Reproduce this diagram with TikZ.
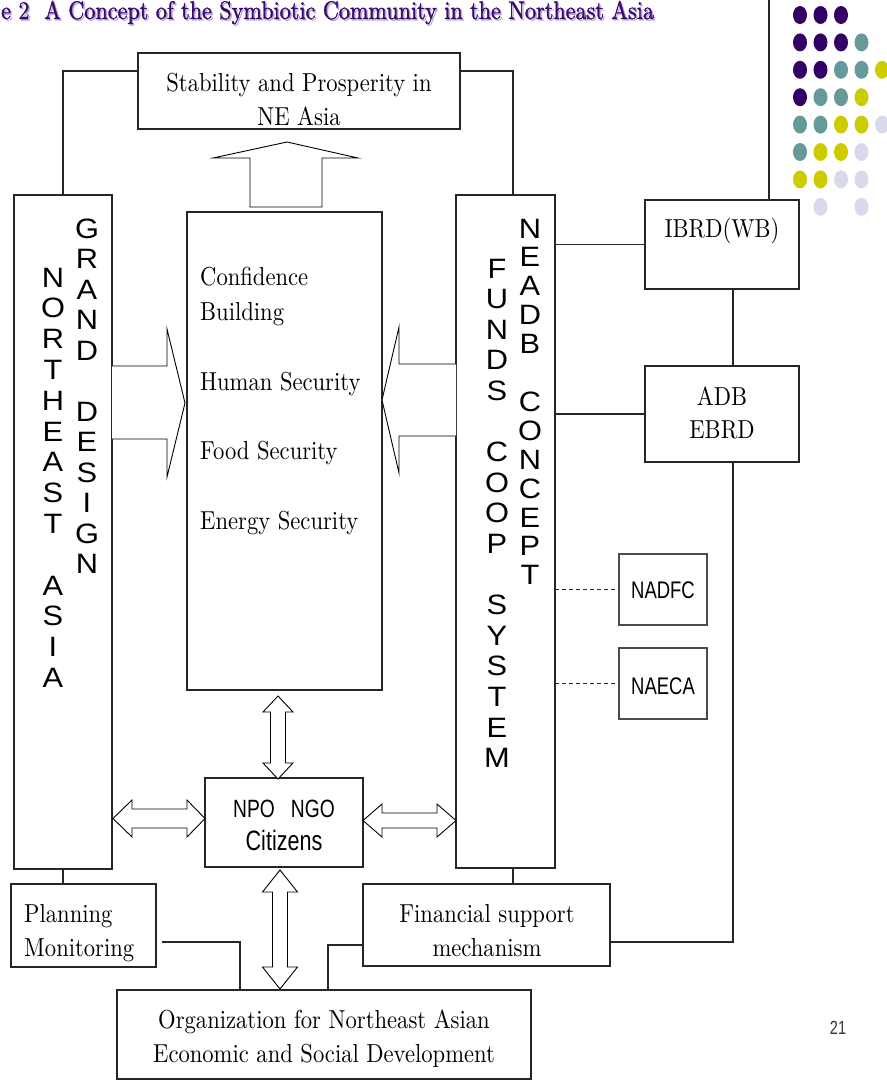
\documentclass[tikz,border=0pt]{standalone}
\usepackage{fontspec}
\setmainfont{lmroman10-regular.otf}[FakeStretch=0.87]
\newfontfamily\ttlfont{lmroman10-regular.otf}[FakeStretch=0.87,FakeBold=1.2]
\newfontfamily\nsans{Liberation Sans}[FakeStretch=0.77]
\newfontfamily\wsans{Liberation Sans}[FakeStretch=1.1]
\definecolor{dotP}{HTML}{330066}
\definecolor{dotT}{HTML}{669999}
\definecolor{dotY}{HTML}{CCCC00}
\definecolor{dotL}{HTML}{D9D9EC}
\definecolor{ttl}{HTML}{3A0A6E}
\definecolor{ttlsh}{HTML}{B8A8DA}
\begin{document}
\begin{tikzpicture}[x=1pt,y=-1pt,
  box/.style={draw=black!85,line width=1.1pt,inner sep=0pt,outer sep=0pt,anchor=north west},
  ln/.style={draw=black!85,line width=1.1pt},
  blk/.style={draw=black,line width=0.9pt,fill=white,line join=miter},
  srf/.style={font=\fontsize{26}{34}\selectfont,inner sep=0pt,anchor=base},
  nsf/.style={font=\nsans\fontsize{24}{30}\selectfont,inner sep=0pt,anchor=base},
  col/.style={font=\wsans\fontsize{28}{30}\selectfont,inner sep=0pt,anchor=base}]
\useasboundingbox (0,0) rectangle (887,1080);

% title
\node[anchor=base west,inner sep=0pt,text=ttlsh,font=\ttlfont\fontsize{25.5}{30}\selectfont] (titleS) at (2.5,20.5) {e 2\ \ A Concept of the Symbiotic Community in the Northeast Asia};
\node[anchor=base west,inner sep=0pt,text=ttl,font=\ttlfont\fontsize{25.5}{30}\selectfont] (title) at (1,19) {e 2\ \ A Concept of the Symbiotic Community in the Northeast Asia};

% dots
\foreach \cx/\ry/\cc in {0/0/dotP,1/0/dotP,2/0/dotP,
  0/1/dotP,1/1/dotP,2/1/dotP,3/1/dotT,
  0/2/dotP,1/2/dotP,2/2/dotT,3/2/dotT,4/2/dotY,
  0/3/dotP,1/3/dotT,2/3/dotT,3/3/dotY,
  0/4/dotT,1/4/dotT,2/4/dotY,3/4/dotY,4/4/dotL,
  0/5/dotT,1/5/dotY,2/5/dotY,3/5/dotL,
  0/6/dotY,1/6/dotY,2/6/dotL,3/6/dotL,
  1/7/dotL,3/7/dotL}
  \fill[\cc] ({800+20.5*\cx},{15+27.4*\ry}) ellipse [x radius=7,y radius=9];

% boxes
\node[box,minimum width=322pt,minimum height=76pt] (top) at (138,53) {};
\node[box,minimum width=98pt,minimum height=674pt] (LB) at (14,195) {};
\node[box,minimum width=195pt,minimum height=478pt] (MB) at (187,212) {};
\node[box,minimum width=99pt,minimum height=673pt] (RB) at (456,195) {};
\node[box,minimum width=154pt,minimum height=89pt] (IB) at (645,200) {};
\node[box,minimum width=154pt,minimum height=96pt] (AD) at (645,366) {};
\node[box,minimum width=88pt,minimum height=71pt,draw=black!70] (NF) at (619,554) {};
\node[box,minimum width=88pt,minimum height=71pt,draw=black!70] (NE) at (619,648) {};
\node[box,minimum width=158pt,minimum height=89pt] (NPO) at (205,778) {};
\node[box,minimum width=145pt,minimum height=83pt] (PM) at (11,884) {};
\node[box,minimum width=247pt,minimum height=82pt] (FS) at (363,884) {};
\node[box,minimum width=414pt,minimum height=89pt] (OR) at (117,990) {};

% texts
\node[srf] (t1) at (299,91) {Stability and Prosperity in};
\node[srf] (t2) at (299,125) {NE Asia};
\node[srf,anchor=base west] (m1) at (200,285) {Confidence};
\node[srf,anchor=base west] (m2) at (200,320) {Building};
\node[srf,anchor=base west] (m3) at (200,390) {Human Security};
\node[srf,anchor=base west] (m4) at (200,459) {Food Security};
\node[srf,anchor=base west] (m5) at (200,529) {Energy Security};
\node[srf] (ib1) at (722,237) {IBRD(WB)};
\node[srf] (ad1) at (722,405) {ADB};
\node[srf] (ad2) at (722,438) {EBRD};
\node[srf,anchor=base west] (pm1) at (24,922) {Planning};
\node[srf,anchor=base west] (pm2) at (24,956) {Monitoring};
\node[srf] (fs1) at (487,922) {Financial support};
\node[srf] (fs2) at (487,956) {mechanism};
\node[srf] (or1) at (324,1028) {Organization for Northeast Asian};
\node[srf] (or2) at (324,1062) {Economic and Social Development};
\node[nsf] (nf1) at (663,598.5) {NADFC};
\node[nsf] (ne1) at (663,694.5) {NAECA};
\node[nsf,font=\nsans\fontsize{25}{30}\selectfont] (np1) at (284,817) {NPO\ \ \ NGO};
\node[nsf,font=\nsans\fontsize{28}{30}\selectfont] (np2) at (284,850) {Citizens};
\node[nsf,font=\nsans\fontsize{19}{22}\selectfont,text=black!80] (pg) at (838,1034) {21};

% vertical letter columns
\foreach \l [count=\i] in {N,O,R,T,H,E,A,S,T,{},A,S,I,A}
  \node[col] (nea\i) at (53,{287+(\i-1)*30.8}) {\l};
\foreach \l [count=\i] in {G,R,A,N,D,{},D,E,S,I,G,N}
  \node[col] (gd\i) at (87,{238+(\i-1)*30.5}) {\l};
\foreach \l [count=\i] in {F,U,N,D,S,{},C,O,O,P,{},S,Y,S,T,E,M}
  \node[col] (fc\i) at (497,{278+(\i-1)*30.6}) {\l};
\foreach \l [count=\i] in {N,E,A,D,B,{},C,O,N,C,E,P,T}
  \node[col] (nc\i) at (530,{238+(\i-1)*28.9}) {\l};

% connectors
\coordinate (edge) at (769,0);
\draw[ln] (edge) -- (edge |- IB.north);
\draw[ln] (LB.north) |- ([yshift=20pt]top.west);
\draw[ln] ([yshift=20pt]top.east) -| ([xshift=7.5pt]RB.north);
\draw[ln] (RB.east |- IB.west) -- (IB.west);
\draw[ln] (RB.east |- AD.west) -- (AD.west);
\draw[ln] ([xshift=11pt]IB.south) -- ([xshift=11pt]AD.north);
\draw[ln] ([xshift=11pt]AD.south) |- ([yshift=-17pt]FS.east);
\draw[ln,dashed,dash pattern=on 4pt off 3pt,line width=0.8pt] (RB.east |- NF.west) -- (NF.west);
\draw[ln,dashed,dash pattern=on 4pt off 3pt,line width=0.8pt] (RB.east |- NE.west) -- (NE.west);
\draw[ln] (LB.south) -- (LB.south |- PM.north);
\draw[ln] ([xshift=7.5pt]RB.south) -- ([xshift=7.5pt]RB.south |- FS.north);
\coordinate (pmL) at ([xshift=6pt,yshift=-16.5pt]PM.east);
\draw[ln] (pmL) -| ([xshift=-84pt]OR.north);
\draw[ln] ([yshift=-20pt]FS.west) -| ([xshift=4pt]OR.north);

% block arrows
\draw[blk] (250,207) -- (250,158) -- (213,158) -- (287,142) -- (358,158) -- (322,158) -- (322,207) -- cycle;
\draw[blk] (112,366) -- (167,366) -- (167,329) -- (185,403) -- (167,477) -- (167,439) -- (112,439);
\draw[blk] (456,364) -- (399,364) -- (399,327) -- (382,400) -- (399,473) -- (399,436) -- (456,436);
\draw[blk] (278,696) -- (293,712) -- (285.5,712) -- (285.5,763) -- (293,763) -- (278,779) -- (263,763) -- (270.5,763) -- (270.5,712) -- (263,712) -- cycle;
\draw[blk] (280,870) -- (297.5,892) -- (287.5,892) -- (287.5,967) -- (297.5,967) -- (280,989) -- (262.5,967) -- (272.5,967) -- (272.5,892) -- (262.5,892) -- cycle;
\draw[blk] (113,818.5) -- (132,800) -- (132,809) -- (187,809) -- (187,800) -- (205,818.5) -- (187,837) -- (187,828) -- (132,828) -- (132,837) -- cycle;
\draw[blk] (363,820.5) -- (382,804) -- (382,813) -- (437,813) -- (437,804) -- (456,820.5) -- (437,837) -- (437,828) -- (382,828) -- (382,837) -- cycle;
\end{tikzpicture}
\end{document}
